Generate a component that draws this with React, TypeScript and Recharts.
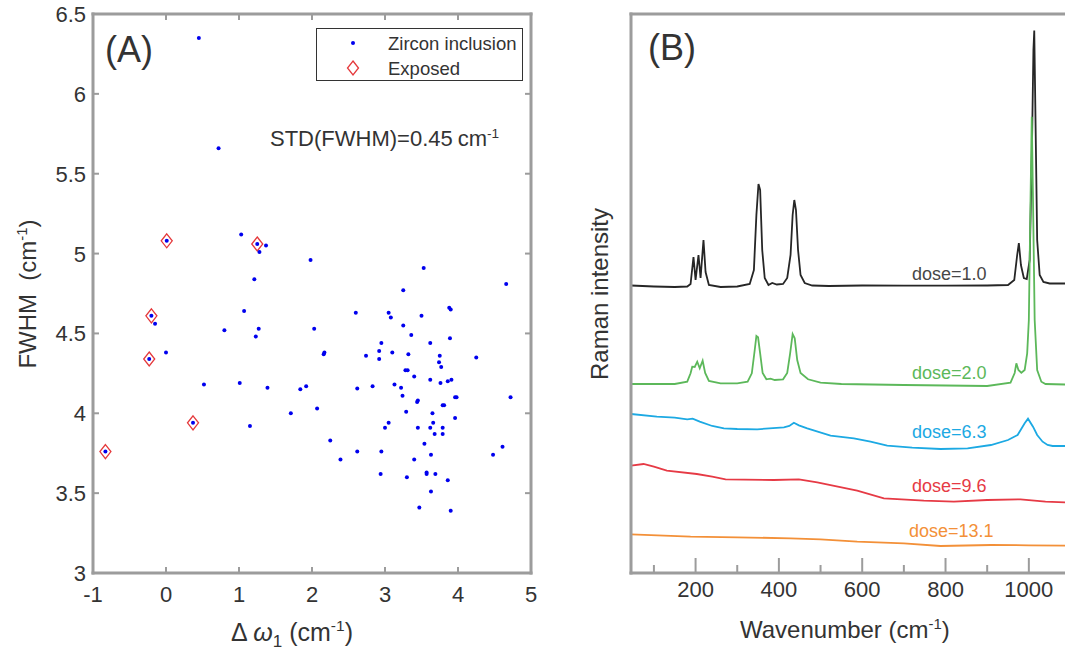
import React from 'react';
import { ScatterChart, Scatter, LineChart, Line, XAxis, YAxis } from 'recharts';

// panel A: peak shift vs FWHM of the 1008 band
const zirconDw = [0.45, 0.72, 0.01, 1.03, 1.25, 1.28, 1.37, 1.98, 1.21, 3.53, 4.66, 3.25, 1.07, 2.6, 3.05, 3.08, 3.5, 3.88, 3.9, 3.25, -0.2, -0.15, 0.8, 1.23, 1.27, 2.03, 3.36, 3.89, 2.95, 3.62, 0.0, -0.23, 2.17, 2.16, 2.74, 2.92, 2.92, 3.1, 3.32, 3.75, 3.74, 3.77, 4.25, 3.28, 3.31, 3.4, 3.62, 3.86, 3.91, 3.76, 0.52, 1.01, 1.39, 1.84, 1.92, 2.62, 2.83, 3.13, 3.22, 3.24, 3.45, 3.44, 3.79, 3.81, 3.96, 3.98, 4.72, 2.07, 1.71, 3.65, 3.29, 3.96, 0.37, 1.15, 3.05, 3.0, 3.45, 3.62, 3.66, 3.79, 3.68, 3.79, 2.25, 3.54, 4.61, -0.83, 2.62, 2.95, 3.63, 4.48, 2.39, 3.4, 2.94, 3.3, 3.57, 3.57, 3.69, 3.86, 3.63, 3.47, 3.9];
const zirconFwhm = [6.35, 5.66, 5.08, 5.12, 5.06, 5.01, 5.05, 4.96, 4.84, 4.91, 4.81, 4.77, 4.64, 4.63, 4.63, 4.6, 4.61, 4.66, 4.65, 4.55, 4.61, 4.56, 4.52, 4.48, 4.53, 4.53, 4.49, 4.47, 4.44, 4.44, 4.38, 4.34, 4.38, 4.37, 4.36, 4.39, 4.34, 4.38, 4.37, 4.36, 4.32, 4.29, 4.35, 4.27, 4.27, 4.23, 4.21, 4.2, 4.21, 4.19, 4.18, 4.19, 4.16, 4.15, 4.17, 4.155, 4.17, 4.18, 4.16, 4.11, 4.08, 4.07, 4.05, 4.05, 4.1, 4.1, 4.1, 4.03, 4.0, 4.0, 4.01, 3.97, 3.94, 3.92, 3.94, 3.91, 3.91, 3.91, 3.94, 3.91, 3.87, 3.87, 3.83, 3.81, 3.79, 3.76, 3.76, 3.76, 3.74, 3.74, 3.71, 3.71, 3.62, 3.6, 3.63, 3.62, 3.62, 3.58, 3.51, 3.41, 3.39];
const exposedDw = [0.01, 1.25, -0.2, -0.23, 0.37, -0.83];
const exposedFwhm = [5.08, 5.06, 4.61, 4.34, 3.94, 3.76];

const dwTicks = [-1, 0, 1, 2, 3, 4, 5];
const fwhmTicks = [3, 3.5, 4, 4.5, 5, 5.5, 6, 6.5];

// panel B: spectra, intensity in arbitrary units (offset per dose)
const wnDose1 = [45, 100, 150, 180, 188, 195, 200, 207, 212, 219, 224, 232, 260, 300, 330, 340, 346, 351, 355, 360, 366, 375, 384, 395, 410, 420, 428, 433, 437, 441, 446, 452, 462, 480, 520, 600, 700, 800, 900, 950, 965, 972, 976, 981, 988, 995, 1002, 1007, 1011, 1013, 1016, 1020, 1026, 1035, 1050, 1080, 1130];
const intDose1 = [287.5, 286.5, 286, 286.5, 289, 316, 293, 318, 295, 333, 301, 288, 286, 286.5, 289, 303, 358, 389, 383, 323, 295, 288, 290, 288.5, 289, 295, 318, 358, 373, 363, 323, 298, 290, 287.5, 287, 287.5, 287.3, 287.3, 287.5, 288, 293, 318, 330, 308, 295, 294, 313, 413, 523, 542.5, 453, 333, 298, 291, 289.5, 289.5, 289.5];
const wnDose2 = [45, 100, 150, 180, 188, 192, 198, 204, 210, 217, 223, 232, 260, 300, 325, 335, 342, 346, 350, 355, 361, 370, 380, 390, 410, 420, 427, 433, 438, 444, 452, 470, 500, 550, 700, 900, 956, 966, 970, 975, 982, 990, 996, 1000, 1004, 1007, 1010, 1014, 1020, 1030, 1040, 1130];
const intDose2 = [189, 189, 189, 191.3, 199.7, 206.3, 206, 211.3, 204.7, 212.3, 200, 192, 189.7, 189.7, 191.3, 199.7, 223, 237, 235.7, 219.7, 200, 193.7, 194.3, 193, 193.7, 200, 219.7, 239, 234.7, 213, 200, 193.7, 190.3, 189, 188, 187, 190.3, 200, 209.7, 203, 200.3, 203, 219.7, 253, 373, 456.3, 373, 253, 203, 191.3, 189, 188];
const wnDose63 = [45, 107, 150, 180, 193, 210, 240, 268, 300, 348, 412, 425, 436, 448, 468, 524, 580, 620, 660, 720, 788, 853, 909, 950, 973, 990, 998, 1010, 1020, 1033, 1045, 1057, 1130];
const intDose63 = [159, 156.3, 155.3, 153.7, 154.3, 151.3, 147, 144.7, 144, 143.7, 145.7, 147, 150.3, 147.7, 144.7, 137.3, 134.7, 131.3, 127.3, 125.3, 124, 124.7, 128, 133, 138, 149.7, 154.3, 146.3, 138, 131.3, 128, 127, 127];
const wnDose96 = [45, 75, 100, 131, 203, 240, 272, 388, 448, 492, 588, 652, 748, 820, 900, 980, 1040, 1130];
const intDose96 = [107.3, 109, 106.3, 102.3, 99, 96.3, 93.7, 93, 93.7, 90.7, 82.3, 74.7, 72.3, 71.3, 73, 73.7, 71.3, 70];
const wnDose131 = [45, 188, 300, 428, 500, 588, 700, 788, 909, 1000, 1130];
const intDose131 = [38.7, 36.3, 35.7, 34.7, 33.7, 31.3, 29.7, 27, 28, 27.7, 27.3];

const wnTicks = [100, 200, 300, 400, 500, 600, 700, 800, 900, 1000, 1100];

const GRAY = '#9c9c9c';
const TXT = '#333333';
const FONT = '"Liberation Sans", Arial, Helvetica, sans-serif';

const zip = (xs: number[], ys: number[]) => xs.map((x, i) => ({ x, y: ys[i] }));
const spec = (ws: number[], is: number[]) => ws.map((w, i) => ({ w, i: is[i] }));

const zircon = zip(zirconDw, zirconFwhm);
const exposed = zip(exposedDw, exposedFwhm);

const spectra = [
  { name: 'dose=1.0', data: spec(wnDose1, intDose1), color: '#262626', text: '#474747', y: 274, left: 912 },
  { name: 'dose=2.0', data: spec(wnDose2, intDose2), color: '#5cb85a', text: '#5cb85a', y: 373, left: 912 },
  { name: 'dose=6.3', data: spec(wnDose63, intDose63), color: '#1ca9e3', text: '#1ca9e3', y: 432, left: 912 },
  { name: 'dose=9.6', data: spec(wnDose96, intDose96), color: '#e63a45', text: '#e63a45', y: 486, left: 912 },
  { name: 'dose=13.1', data: spec(wnDose131, intDose131), color: '#f39038', text: '#f39038', y: 531, left: 909 },
];

const axisLine = { stroke: GRAY, strokeWidth: 3, strokeLinecap: 'square' as const };

const BottomTick = (p: any) => {
  const { x, y, payload, len, showLabel, dy } = p;
  return (
    <g>
      <line x1={x} x2={x} y1={y} y2={y - len} stroke={GRAY} strokeWidth={2} />
      {showLabel && (
        <text x={x} y={y + dy} textAnchor="middle" fontSize={22} fill={TXT}>
          {String(payload.value)}
        </text>
      )}
    </g>
  );
};

const TopTick = (p: any) => (
  <line x1={p.x} x2={p.x} y1={p.y} y2={p.y + 6} stroke={GRAY} strokeWidth={2} />
);

const LeftTick = (p: any) => (
  <g>
    <line x1={p.x} x2={p.x + 6} y1={p.y} y2={p.y} stroke={GRAY} strokeWidth={2} />
    <text x={p.x - 7} y={p.y + 8} textAnchor="end" fontSize={22} fill={TXT}>
      {String(p.payload.value)}
    </text>
  </g>
);

const RightTick = (p: any) => (
  <line x1={p.x} x2={p.x - 6} y1={p.y} y2={p.y} stroke={GRAY} strokeWidth={2} />
);

const Dot = (p: any) => <circle cx={p.cx} cy={p.cy} r={2} fill="#0000ee" />;
const Diamond = (p: any) => (
  <path
    d={`M${p.cx},${p.cy - 7} L${p.cx + 5.5},${p.cy} L${p.cx},${p.cy + 7} L${p.cx - 5.5},${p.cy} Z`}
    fill="none"
    stroke="#e5383b"
    strokeWidth={1.3}
  />
);

const sup = { fontSize: '0.62em', verticalAlign: 'super', lineHeight: 0 } as const;

const Txt = ({ left, top, size, color = TXT, rotate, children }: any) => (
  <div
    style={{
      position: 'absolute',
      left,
      top,
      fontSize: size,
      lineHeight: 1,
      color,
      whiteSpace: 'pre',
      transform: rotate ? 'translate(-50%, -50%) rotate(-90deg)' : 'translateY(-50%)',
    }}
  >
    {children}
  </div>
);

function PanelA() {
  return (
    <div style={{ position: 'absolute', left: 0, top: 0 }}>
      <ScatterChart width={560} height={653} margin={{ top: 13, right: 28, bottom: 40, left: 33 }}>
        <XAxis
          type="number" dataKey="x" domain={[-1, 5]} ticks={dwTicks} interval={0}
          allowDataOverflow height={40} axisLine={axisLine} tickLine={false} tickSize={0} tickMargin={0}
          tick={(p: any) => <BottomTick {...p} len={6} showLabel dy={29} />}
        />
        <XAxis
          xAxisId="top" orientation="top" type="number" dataKey="x" domain={[-1, 5]} ticks={dwTicks} interval={0}
          allowDataOverflow height={1} axisLine={axisLine} tickLine={false} tickSize={0} tickMargin={0}
          tick={TopTick}
        />
        <YAxis
          type="number" dataKey="y" domain={[3, 6.5]} ticks={fwhmTicks} interval={0}
          allowDataOverflow width={60} axisLine={axisLine} tickLine={false} tickSize={0} tickMargin={0}
          tick={LeftTick}
        />
        <YAxis
          yAxisId="right" orientation="right" type="number" dataKey="y" domain={[3, 6.5]} ticks={fwhmTicks} interval={0}
          allowDataOverflow width={1} axisLine={axisLine} tickLine={false} tickSize={0} tickMargin={0}
          tick={RightTick}
        />
        <Scatter data={exposed} shape={Diamond} isAnimationActive={false} />
        <Scatter data={zircon} shape={Dot} isAnimationActive={false} />
      </ScatterChart>
    </div>
  );
}

function PanelB() {
  return (
    <div style={{ position: 'absolute', left: 560, top: 0 }}>
      <LineChart width={600} height={653} margin={{ top: 13, right: 77, bottom: 40, left: 70 }}>
        <XAxis
          type="number" dataKey="w" domain={[45, 1130]} ticks={wnTicks} interval={0}
          allowDataOverflow height={40} axisLine={axisLine} tickLine={false} tickSize={0} tickMargin={0}
          tick={(p: any) => {
            const major = p.payload.value % 200 === 0;
            return <BottomTick {...p} len={major ? 15 : 8} showLabel={major} dy={24} />;
          }}
        />
        <XAxis
          xAxisId="top" orientation="top" type="number" dataKey="w" domain={[45, 1130]}
          allowDataOverflow height={1} axisLine={axisLine} tick={false} tickLine={false}
        />
        <YAxis
          type="number" domain={[0, 559]} allowDataOverflow width={1}
          axisLine={axisLine} tick={false} tickLine={false}
        />
        {spectra.map((s) => (
          <Line
            key={s.name}
            data={s.data}
            dataKey="i"
            type="linear"
            stroke={s.color}
            strokeWidth={1.8}
            dot={false}
            activeDot={false}
            isAnimationActive={false}
          />
        ))}
      </LineChart>
    </div>
  );
}

export default function App() {
  return (
    <div
      style={{
        position: 'fixed', left: 0, top: 0, width: 1065, height: 653,
        overflow: 'hidden', background: '#fff', fontFamily: FONT,
      }}
    >
      <PanelA />
      <PanelB />

      {/* panel A annotations */}
      <Txt left={105} top={50} size={36}>(A)</Txt>
      <div
        style={{
          position: 'absolute', left: 316, top: 28, width: 207, height: 53,
          border: '1px solid #333', background: '#fff', boxSizing: 'border-box',
        }}
      />
      <svg style={{ position: 'absolute', left: 340, top: 30 }} width={30} height={50}>
        <circle cx={13} cy={13} r={2} fill="#0000ee" />
        <path d="M13,31 L18.5,38 L13,45 L7.5,38 Z" fill="none" stroke="#e5383b" strokeWidth={1.3} />
      </svg>
      <Txt left={388} top={44} size={18.5}>Zircon inclusion</Txt>
      <Txt left={388} top={69} size={18.5}>Exposed</Txt>
      <Txt left={270} top={139} size={22}>
        STD(FWHM)=0.45<span style={{ marginLeft: 5 }}>cm</span><span style={sup}>-1</span>
      </Txt>
      <Txt left={28} top={294} size={24} rotate>
        FWHM  (cm<span style={sup}>-1</span>)
      </Txt>
      <Txt left={231} top={632} size={25}>
        Δ <i>ω</i><span style={{ fontSize: '0.68em', verticalAlign: 'sub', lineHeight: 0 }}>1</span> (cm<span style={sup}>-1</span>)
      </Txt>

      {/* panel B annotations */}
      <Txt left={648} top={48} size={36}>(B)</Txt>
      <Txt left={600} top={294} size={24} rotate>Raman intensity</Txt>
      <Txt left={740} top={630} size={24}>
        Wavenumber (cm<span style={sup}>-1</span>)
      </Txt>
      {spectra.map((s) => (
        <Txt key={s.name} left={s.left} top={s.y} size={18} color={s.text}>
          {s.name}
        </Txt>
      ))}
    </div>
  );
}
